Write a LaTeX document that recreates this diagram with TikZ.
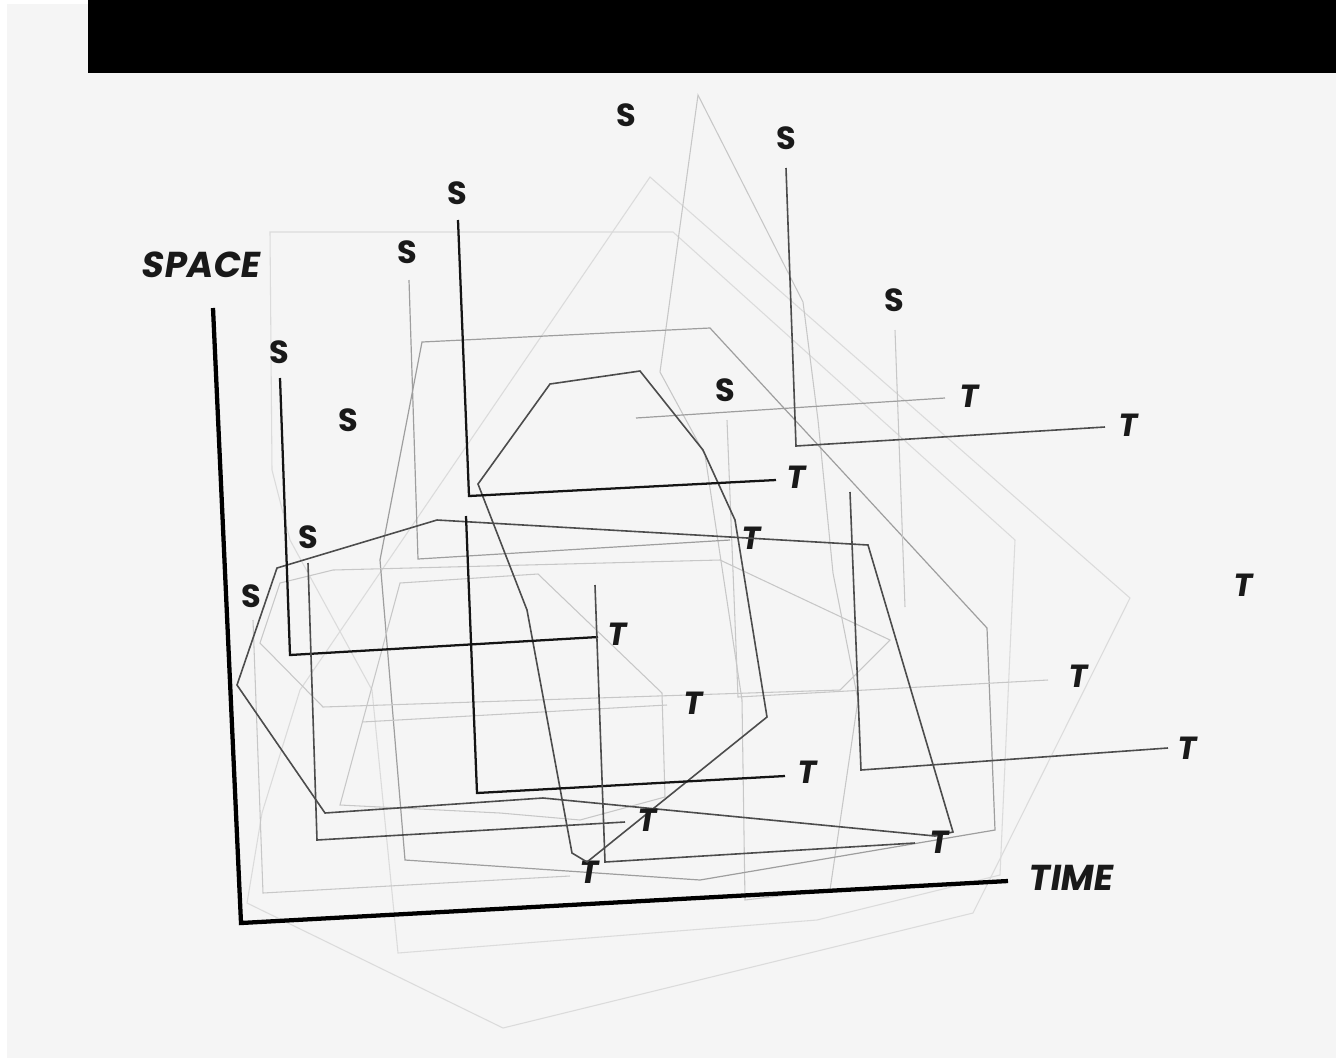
\documentclass[tikz,border=0pt]{standalone}
\usepackage{fontspec}
\setmainfont{Poppins}
\newfontfamily\lblfont{Poppins}[FakeSlant=0.16]
\begin{document}
\begin{tikzpicture}[x=0.75pt,y=-0.75pt,
  lbl/.style={font=\bfseries\fontsize{24}{24}\selectfont, text=black!90, inner sep=0pt},
  tl/.style={font=\lblfont\bfseries\fontsize{24}{24}\selectfont, text=black!90, inner sep=0pt},
  axl/.style={font=\lblfont\bfseries\fontsize{27}{27}\selectfont, text=black!90, inner sep=0pt},
  axis/.style={line width=3.2pt, black, line join=miter},
  dk/.style={line width=1.7pt, black!92},
  md/.style={line width=1.2pt, black!70},
  mg/.style={line width=0.9pt, black!38},
  lg/.style={line width=0.8pt, black!22},
  vl/.style={line width=0.8pt, black!14},
  line join=miter]
\useasboundingbox (0,0) rectangle (1336,1058);
\fill[white] (0,0) rectangle (1336,1058);
\fill[black!4] (7,4) rectangle (1336,1058);
\fill[black] (88,0) rectangle (1336,73);

% very light polygons
\draw[vl] (650,177) -- (1130,598) -- (973,913) -- (503,1028) -- (247,903) -- (262,813) -- (300,690) -- cycle;
\draw[vl] (270,232) -- (673,232) -- (1015,540) -- (1000,875) -- (817,920) -- (398,953) -- (372,690) -- (290,540) -- (272,470) -- cycle;
\draw[lg] (698,95) -- (803,302) -- (818,420) -- (833,573) -- (858,700) -- (830,890) -- (745,900) -- (742,700) -- (705,455) -- (660,372) -- cycle;
\draw[mg] (422,342) -- (710,328) -- (987,628) -- (995,830) -- (700,880) -- (405,860) -- (380,560) -- cycle;
\draw[lg] (400,583) -- (538,574) -- (662,693) -- (665,797) -- (580,820) -- (500,813) -- (340,805) -- cycle;
\draw[lg] (280,583) -- (333,570) -- (720,560) -- (890,640) -- (840,690) -- (323,707) -- (260,643) -- cycle;

% light L-shapes
\node[lbl] (s10) at (894,300) {S};
\coordinate (s10a) at (895,330);
\coordinate (s10b) at (905,607);
\draw[lg] (s10a) -- (s10b);

\node[lbl] (s5) at (725,390) {S};
\node[tl] (t5) at (1077,676) {T};
\draw[lg] (727,420) -- (738,697) -- (1048,680);

\node[tl] (t11) at (968,396) {T};
\draw[mg] (636,418) -- (945,398);

\node[lbl] (s12) at (251,596) {S};
\node[tl] (t12) at (588,872) {T};
\draw[lg] (253,620) -- (263,893) -- (570,876);

\node[tl] (t13) at (692,703) {T};
\draw[lg] (362,722) -- (667,705);

\node[lbl] (s4) at (407,252) {S};
\node[tl] (t4) at (750,538) {T};
\draw[mg] (409,280) -- (418,559) -- (730,540);

% dark polygons
\draw[md] (277,568) -- (437,520) -- (868,545) -- (953,832) -- (935,836) -- (543,798) -- (325,813) -- (237,685) -- cycle;
\draw[md] (478,484) -- (550,384) -- (640,371) -- (703,450) -- (735,520) -- (767,717) -- (587,862) -- (572,853) -- (527,610) -- cycle;

% dark L-shapes
\node[lbl] (s1) at (279,352) {S};
\node[tl] (t1) at (616,634) {T};
\draw[dk] (280,378) -- (290,655) -- (598,637);

\node[lbl] (s2) at (457,193) {S};
\node[tl] (t2) at (795,477) {T};
\draw[dk] (458,220) -- (469,496) -- (776,480);

\node[lbl] (s3) at (786,138) {S};
\node[tl] (t3) at (1127,425) {T};
\draw[md] (786,168) -- (796,446) -- (1105,427);

\node[tl] (t6) at (806,772) {T};
\draw[dk] (466,516) -- (477,793) -- (785,776);

\node[lbl] (s7) at (308,537) {S};
\node[tl] (t7) at (646,820) {T};
\draw[md] (308,563) -- (317,840) -- (625,822);

\node[tl] (t8) at (938,842) {T};
\draw[md] (595,585) -- (605,862) -- (915,843);

\node[tl] (t9) at (1186,748) {T};
\draw[md] (850,492) -- (861,770) -- (1168,748);

% loose labels
\node[lbl] (s0) at (626,115) {S};
\node[lbl] (s00) at (348,420) {S};
\node[tl] (t0) at (1242,585) {T};

% axes
\coordinate (ytop) at (213,308);
\coordinate (orig) at (241,923);
\coordinate (xend) at (1008,881);
\draw[axis] (ytop) -- (orig) -- (xend);
\node[axl] (space) at (200,265) {SPACE};
\node[axl] (time) at (1070,878) {TIME};
\end{tikzpicture}
\end{document}
